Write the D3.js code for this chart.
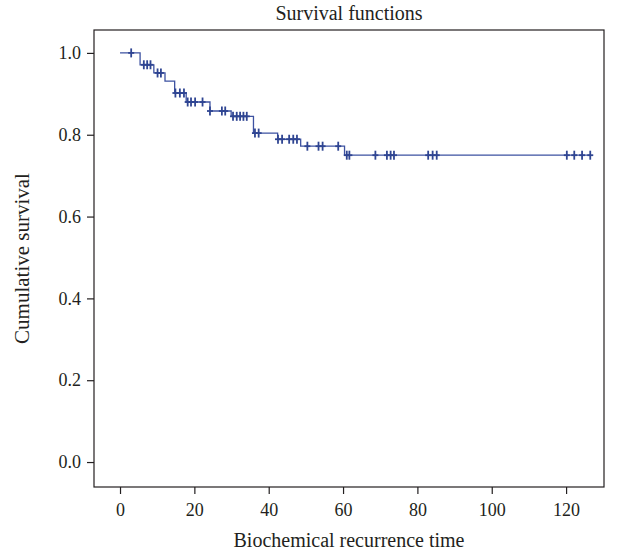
<!DOCTYPE html>
<html>
<head>
<meta charset="utf-8">
<script src="https://cdn.jsdelivr.net/npm/d3@7"></script>
<style>
  body { margin: 0; background: #fff; }
  text { font-family: "Liberation Serif", "DejaVu Serif", serif; fill: #231f20; }
</style>
</head>
<body>
<div id="chart"></div>
<script>
// step function: time of each drop and survival after it
var eventTimes = [5.4, 9.1, 12.1, 14.7, 17.8, 24.2, 29.9, 35.9, 42.4, 48.6, 60.4];
var survival   = [0.971, 0.951, 0.931, 0.902, 0.880, 0.858, 0.845, 0.804, 0.789, 0.772, 0.750];
// censored cases (+ marks)
var censorTimes = [3.0, 6.4, 7.3, 8.2, 10.1, 11.0, 14.9, 16.1, 17.2, 18.2, 19.1, 20.2, 22.2,
  24.2, 27.4, 28.3, 30.4, 31.4, 32.3, 33.2, 34.1, 36.3, 37.3, 42.5, 43.6, 45.5, 46.6, 47.6,
  50.4, 53.4, 54.5, 58.7, 61.0, 61.7, 68.7, 71.8, 72.8, 73.7, 82.9, 84.1, 85.2,
  120.2, 122.2, 124.3, 126.5];
var xTicks = [0, 20, 40, 60, 80, 100, 120];
var yTicks = [0.0, 0.2, 0.4, 0.6, 0.8, 1.0];

var W = 618, H = 556;
var box = {left: 94, right: 604, top: 30, bottom: 487};
var lineColor = "#3d52a1";

var svg = d3.select("#chart").append("svg")
    .attr("width", W)
    .attr("height", H);

var x = d3.scaleLinear().domain([-7, 130.2]).range([box.left, box.right]);
var y = d3.scaleLinear().domain([-0.061, 1.056]).range([box.bottom, box.top]);

// survival at time t (right-continuous)
function survAt(t) {
  var s = 1;
  for (var i = 0; i < eventTimes.length; i++) {
    if (eventTimes[i] <= t) s = survival[i];
  }
  return s;
}

// frame
svg.append("rect")
    .attr("x", box.left)
    .attr("y", box.top)
    .attr("width", box.right - box.left)
    .attr("height", box.bottom - box.top)
    .attr("fill", "none")
    .attr("stroke", "#231f20")
    .attr("stroke-width", 1.2);

// axes
var xAxis = svg.append("g")
    .attr("transform", "translate(0," + box.bottom + ")")
    .call(d3.axisBottom(x).tickValues(xTicks).tickFormat(d3.format("d")).tickSize(7).tickPadding(6));
var yAxis = svg.append("g")
    .attr("transform", "translate(" + box.left + ",0)")
    .call(d3.axisLeft(y).tickValues(yTicks).tickFormat(d3.format(".1f")).tickSize(7).tickPadding(6));

[xAxis, yAxis].forEach(function(a) {
  a.select(".domain").remove();
  a.selectAll("line").attr("stroke", "#231f20").attr("stroke-width", 1.2);
  a.selectAll("text")
      .style("font-family", "'Liberation Serif', serif")
      .style("font-size", "18px")
      .attr("fill", "#231f20");
});
xAxis.selectAll("text").attr("dy", "0.9em");

// step line
var endTime = censorTimes[censorTimes.length - 1];
var pts = [[0, 1]];
eventTimes.forEach(function(t, i) {
  pts.push([t, i === 0 ? 1 : survival[i - 1]]);
  pts.push([t, survival[i]]);
});
pts.push([endTime, survival[survival.length - 1]]);

svg.append("path")
    .datum(pts)
    .attr("fill", "none")
    .attr("stroke", lineColor)
    .attr("stroke-width", 1.3)
    .attr("d", d3.line().x(function(d) { return x(d[0]); }).y(function(d) { return y(d[1]); }));

// censor marks
var marks = svg.append("g").attr("stroke", "#2f4592").attr("stroke-width", 1.8);
censorTimes.forEach(function(t) {
  var cx = x(t), cy = y(survAt(t));
  marks.append("line").attr("x1", cx).attr("x2", cx).attr("y1", cy - 4.5).attr("y2", cy + 4.5);
  marks.append("line").attr("x1", cx - 3).attr("x2", cx + 3).attr("y1", cy).attr("y2", cy);
});

// titles
svg.append("text")
    .attr("x", (box.left + box.right) / 2)
    .attr("y", 20)
    .attr("text-anchor", "middle")
    .style("font-size", "20px")
    .text("Survival functions");

svg.append("text")
    .attr("x", (box.left + box.right) / 2)
    .attr("y", 547)
    .attr("text-anchor", "middle")
    .style("font-size", "20px")
    .text("Biochemical recurrence time");

svg.append("text")
    .attr("transform", "translate(29," + ((box.top + box.bottom) / 2) + ") rotate(-90)")
    .attr("text-anchor", "middle")
    .style("font-size", "21px")
    .text("Cumulative survival");
</script>
</body>
</html>
